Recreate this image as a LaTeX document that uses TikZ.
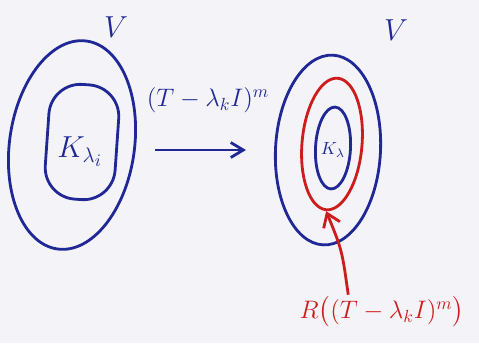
\documentclass[tikz,border=0pt]{standalone}
\usepackage{amsmath}
\usetikzlibrary{arrows.meta,positioning,calc,shapes.geometric}
\definecolor{penblue}{RGB}{32,40,150}
\definecolor{penred}{RGB}{205,28,28}
\definecolor{board}{RGB}{244,244,248}
\tikzset{
  ring/.style={ellipse, draw=penblue, line width=1.6pt, inner sep=0pt},
  core/.style={rectangle, rounded corners=18pt, draw=penblue, line width=1.6pt, inner sep=0pt},
  redring/.style={ellipse, draw=penred, line width=1.6pt, inner sep=0pt},
  btxt/.style={text=penblue, font=\LARGE, inner sep=1pt},
  rtxt/.style={text=penred, font=\Large, inner sep=1pt},
  fl/.style={-{Straight Barb[length=2.5mm,width=3mm]}, line width=1.6pt, draw=penblue},
  rfl/.style={-{Straight Barb[length=2.5mm,width=3.5mm]}, line width=1.6pt, draw=penred},
}
\begin{document}
\begin{tikzpicture}[x=0.02cm,y=-0.02cm]
\fill[board] (0,0) rectangle (479,343);
\useasboundingbox (0,0) rectangle (479,343);
% source space
\node[ring, minimum width=2.5cm, minimum height=4.2cm, rotate=-8] (outerL) at (72,145) {};
\node[core, minimum width=1.4cm, minimum height=2.3cm, rotate=-4] (innerL) at (82,142) {};
\node[btxt] (kL) at (80,152) {$K_{\lambda_i}$};
\node[btxt] (vL) at (116,27) {$V$};
% the map
\node[btxt, font=\Large] (map) at (208,100) {$(T-\lambda_k I)^m$};
\coordinate (arrS) at (155,150);
\coordinate (arrE) at (246,150);
\draw[fl] (arrS) -- (arrE);
% image space
\node[ring, minimum width=2.1cm, minimum height=3.8cm, rotate=-3] (outerR) at (328,150) {};
\node[redring, minimum width=1.2cm, minimum height=2.64cm, rotate=-5] (range) at (332,144) {};
\node[ring, minimum width=0.7cm, minimum height=1.64cm, rotate=-3] (innerR) at (333,148) {};
\node[btxt, font=\normalsize] (kR) at (333,150) {$K_{\lambda}$};
\node[btxt] (vR) at (396,30) {$V$};
% range label
\node[rtxt] (rlbl) at (382,312) {$R\big((T-\lambda_k I)^m\big)$};
\coordinate (rtip) at ($(rlbl.north west)!0.3!(rlbl.north east)$);
\draw[rfl] (rtip) .. controls (342,250) .. (range.south);
\end{tikzpicture}
\end{document}
